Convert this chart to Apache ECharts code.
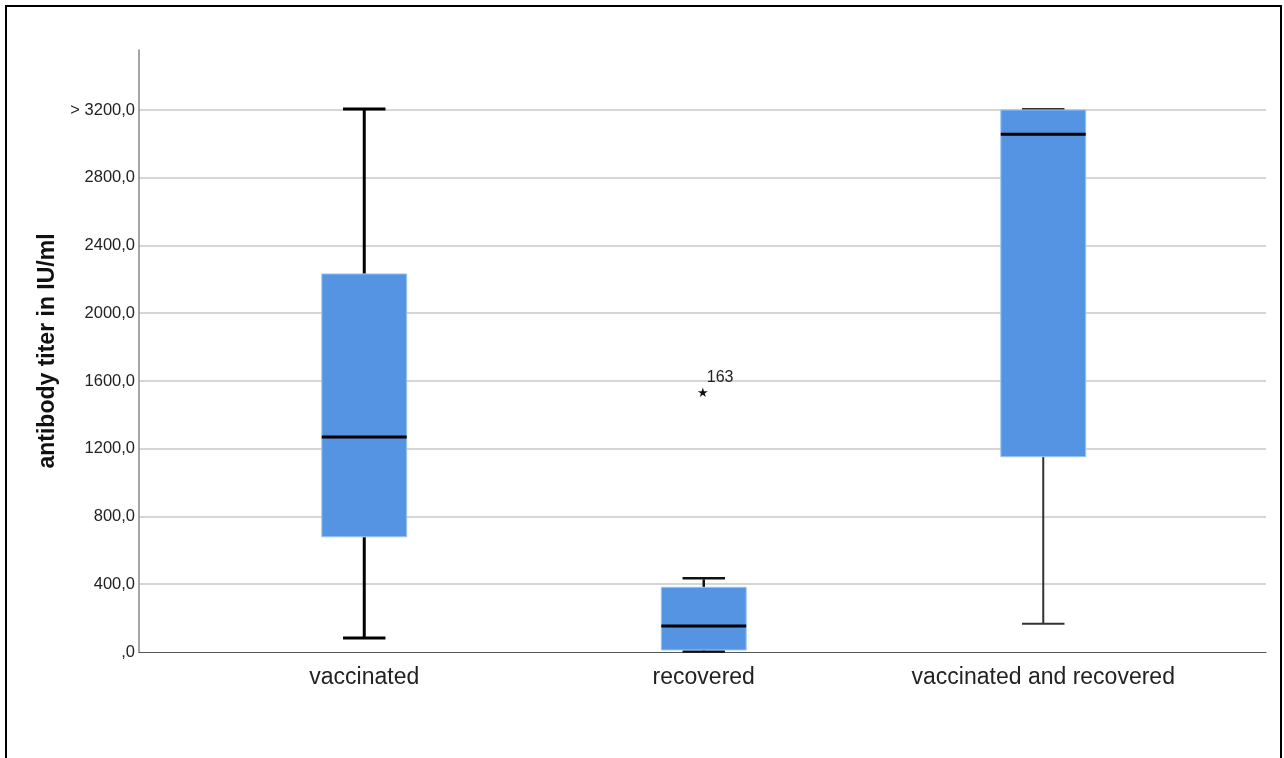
<!DOCTYPE html>
<html>
<head>
<meta charset="utf-8">
<script src="https://cdn.jsdelivr.net/npm/echarts@6/dist/echarts.min.js"></script>
<style>
html,body{margin:0;padding:0;background:#fff;}
#chart{width:1284px;height:758px;}
</style>
</head>
<body>
<div id="chart"></div>
<script>
// ---- data ----
const categories = ['vaccinated', 'recovered', 'vaccinated and recovered'];
const minValues = [83, 3, 167];
const q1Values = [680, 12, 1153];
const medianValues = [1269, 153, 3057];
const q3Values = [2232, 382, 3200];
const maxValues = [3200, 429, 3200];
const outlierCategories = [1];
const outlierValues = [1527];
const outlierLabels = ['163'];
const yTickValues = [0, 400, 800, 1200, 1600, 2000, 2400, 2800, 3200];
const yTickLabels = [',0', '400,0', '800,0', '1200,0', '1600,0', '2000,0', '2400,0', '2800,0', '> 3200,0'];
const yAxisMax = 3554;

// ---- styles ----
const whiskerWidths = [3, 2.5, 2];
const whiskerColors = ['#000', '#111', '#333'];
const boxColor = '#5594e3';
const FONT = 'Liberation Sans, Arial, sans-serif';

const chart = echarts.init(document.getElementById('chart'));

const boxData = categories.map((c, i) => [i, minValues[i], q1Values[i], medianValues[i], q3Values[i], maxValues[i]]);
const outlierData = outlierCategories.map((c, i) => [c, outlierValues[i], outlierLabels[i]]);

function fmtY(v) {
  const idx = yTickValues.indexOf(v);
  return idx >= 0 ? yTickLabels[idx] : '';
}

const option = {
  backgroundColor: '#fff',
  animation: false,
  graphic: [{
    type: 'rect',
    shape: { x: 6, y: 6, width: 1275, height: 900 },
    style: { fill: 'none', stroke: '#000', lineWidth: 2 },
    z: 100
  }],
  grid: [
    { left: 139, right: 18, top: 50, bottom: 106 },
    { left: 194.5, right: 71, top: 50, bottom: 106 }
  ],
  xAxis: [
    {
      gridIndex: 0, type: 'value', min: 0, max: 1,
      axisLine: { show: true, onZero: false, lineStyle: { color: '#555', width: 1.2 } },
      axisTick: { show: false }, axisLabel: { show: false }, splitLine: { show: false }
    },
    {
      gridIndex: 1, type: 'category', data: categories,
      axisLine: { show: false }, axisTick: { show: false }, splitLine: { show: false },
      axisLabel: { interval: 0, hideOverlap: false, fontSize: 23, color: '#222', margin: 14, fontFamily: FONT }
    }
  ],
  yAxis: [
    {
      gridIndex: 0, type: 'value', min: 0, max: yAxisMax, interval: 400,
      name: 'antibody titer in IU/ml', nameLocation: 'middle', nameGap: 80,
      nameTextStyle: { fontSize: 23, fontWeight: 'bold', color: '#111', fontFamily: FONT },
      axisLine: { show: true, lineStyle: { color: '#888', width: 1.5 } },
      axisTick: { show: false },
      axisLabel: { fontSize: 16.5, color: '#222', margin: 4, showMaxLabel: false, formatter: fmtY, fontFamily: FONT },
      splitLine: { show: true, showMaxLine: false, showMinLine: false, lineStyle: { color: '#c8c8c8', width: 1.5 } }
    },
    {
      gridIndex: 1, type: 'value', min: 0, max: yAxisMax, show: false, splitLine: { show: false }
    }
  ],
  series: [
    {
      type: 'custom',
      xAxisIndex: 1, yAxisIndex: 1,
      data: boxData,
      encode: { x: 0, y: [1, 2, 3, 4, 5] },
      renderItem: function (params, api) {
        const i = api.value(0);
        const pMin = api.coord([i, api.value(1)]);
        const pQ1 = api.coord([i, api.value(2)]);
        const pMed = api.coord([i, api.value(3)]);
        const pQ3 = api.coord([i, api.value(4)]);
        const pMax = api.coord([i, api.value(5)]);
        const band = api.size([1, 0])[0];
        const bw = band * 0.25;
        const cw = bw / 2;
        const x = pMed[0];
        const ws = { stroke: whiskerColors[i], lineWidth: whiskerWidths[i] };
        return {
          type: 'group',
          children: [
            { type: 'line', shape: { x1: x, y1: pMin[1], x2: x, y2: pQ1[1] }, style: ws },
            { type: 'line', shape: { x1: x, y1: pQ3[1], x2: x, y2: pMax[1] }, style: ws },
            { type: 'line', shape: { x1: x - cw / 2, y1: pMin[1], x2: x + cw / 2, y2: pMin[1] }, style: ws },
            { type: 'line', shape: { x1: x - cw / 2, y1: pMax[1] - 1, x2: x + cw / 2, y2: pMax[1] - 1 }, style: ws },
            { type: 'rect', shape: { x: x - bw / 2, y: pQ3[1], width: bw, height: pQ1[1] - pQ3[1] },
              style: { fill: boxColor, stroke: '#9cc4f2', lineWidth: 1 } },
            { type: 'line', shape: { x1: x - bw / 2, y1: pMed[1], x2: x + bw / 2, y2: pMed[1] },
              style: { stroke: '#000', lineWidth: 3 } }
          ]
        };
      }
    },
    {
      type: 'custom',
      xAxisIndex: 1, yAxisIndex: 1,
      data: outlierData,
      encode: { x: 0, y: 1 },
      renderItem: function (params, api) {
        const p = api.coord([api.value(0), api.value(1)]);
        const lbl = outlierData[params.dataIndex][2];
        return {
          type: 'group',
          children: [
            { type: 'text', x: p[0] - 1, y: p[1],
              style: { text: '★', fontSize: 13, fill: '#111', align: 'center', verticalAlign: 'middle', fontFamily: 'DejaVu Sans, sans-serif' } },
            { type: 'text', x: p[0] + 3, y: p[1] - 16,
              style: { text: lbl, fontSize: 16, fill: '#222', align: 'left', verticalAlign: 'middle', fontFamily: FONT } }
          ]
        };
      }
    }
  ]
};
chart.setOption(option);
</script>
</body>
</html>
